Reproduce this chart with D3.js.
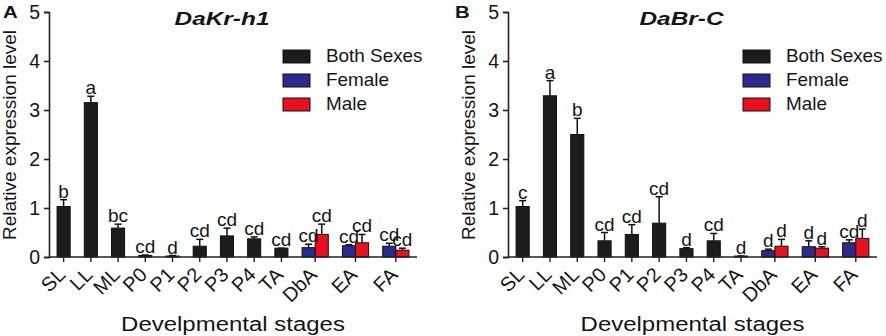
<!DOCTYPE html>
<html><head><meta charset="utf-8">
<script src="https://cdn.jsdelivr.net/npm/d3@7"></script>
<style>body{margin:0;background:#fff}svg{display:block;font-family:"Liberation Sans",Arial,sans-serif}</style>
</head><body><svg id="c" width="886" height="336"></svg>
<script>
const categories = ["SL","LL","ML","P0","P1","P2","P3","P4","TA","DbA","EA","FA"];
const seriesNames = ["Both Sexes","Female","Male"];
const seriesColors = ["#1c1c1c","#2d2a8e","#e8101c"];
const yTicks = [0,1,2,3,4,5];

// Panel A: DaKr-h1
const krBoth     = [1.03,3.15,0.59,0.03,0.02,0.22,0.43,0.37,0.18,null,null,null];
const krBothErr  = [1.17,3.28,0.67,0.04,0.03,0.36,0.59,0.41,0.18,null,null,null];
const krBothLet  = ["b","a","bc","cd","d","cd","cd","cd","cd",null,null,null];
const krFemale   = [null,null,null,null,null,null,null,null,null,0.19,0.23,0.22];
const krFemaleErr= [null,null,null,null,null,null,null,null,null,0.26,0.25,0.28];
const krFemaleLet= [null,null,null,null,null,null,null,null,null,"cd","cd","cd"];
const krMale     = [null,null,null,null,null,null,null,null,null,0.46,0.29,0.14];
const krMaleErr  = [null,null,null,null,null,null,null,null,null,0.67,0.46,0.18];
const krMaleLet  = [null,null,null,null,null,null,null,null,null,"cd","cd","cd"];

// Panel B: DaBr-C
const brBoth     = [1.03,3.29,2.50,0.33,0.46,0.69,0.17,0.33,0.02,null,null,null];
const brBothErr  = [1.15,3.60,2.83,0.50,0.66,1.23,0.19,0.48,0.02,null,null,null];
const brBothLet  = ["c","a","b","cd","cd","cd","d","cd","d",null,null,null];
const brFemale   = [null,null,null,null,null,null,null,null,null,0.13,0.21,0.29];
const brFemaleErr= [null,null,null,null,null,null,null,null,null,0.16,0.33,0.35];
const brFemaleLet= [null,null,null,null,null,null,null,null,null,"d","d","cd"];
const brMale     = [null,null,null,null,null,null,null,null,null,0.22,0.18,0.38];
const brMaleErr  = [null,null,null,null,null,null,null,null,null,0.36,0.21,0.57];
const brMaleLet  = [null,null,null,null,null,null,null,null,null,"d","d","d"];

const panels = [
  {tag:"A", title:"DaKr-h1", x0:49, x1:417, legX:283, ylabX:11, tagX:3,
   series:[[krBoth,krBothErr,krBothLet],[krFemale,krFemaleErr,krFemaleLet],[krMale,krMaleErr,krMaleLet]]},
  {tag:"B", title:"DaBr-C", x0:508, x1:877, legX:743, ylabX:470, tagX:455,
   series:[[brBoth,brBothErr,brBothLet],[brFemale,brFemaleErr,brFemaleLet],[brMale,brMaleErr,brMaleLet]]}
];

const svg = d3.select("#c");
const y = d3.scaleLinear().domain([0,5]).range([257,12]);
const PAD=8, BW=13, GAP=14;
const INK="#151515";

function txt(g, x, yy, s, size, sx, opts={}){
  const t = g.append("text")
    .attr("transform",`translate(${x},${yy}) scale(${sx},1)` + (opts.rot?` rotate(${opts.rot})`:""))
    .attr("font-size",size).attr("fill",INK).text(s);
  if(opts.anchor) t.attr("text-anchor",opts.anchor);
  if(opts.bold) t.attr("font-weight","bold");
  if(opts.italic) t.attr("font-style","italic");
  if(opts.db) t.attr("dominant-baseline",opts.db);
  return t;
}

panels.forEach(p=>{
  const g = svg.append("g");
  const bars=[]; const groups=[];
  let u = PAD;
  categories.forEach((c,i)=>{
    if(i>0) u += GAP;
    const start=u;
    p.series.forEach((s,si)=>{
      if(s[0][i]!=null){ bars.push({cat:c, si, v:s[0][i], e:s[1][i], l:s[2][i], u0:u}); u += BW; }
    });
    groups.push({cat:c, mid:(start+u)/2});
  });
  u += PAD;
  const x = d3.scaleLinear().domain([0,u]).range([p.x0,p.x1]);
  const bw = x(BW)-x(0);

  // bars
  g.selectAll("rect.bar").data(bars).join("rect")
    .attr("x",d=>x(d.u0)).attr("width",bw)
    .attr("y",d=>y(d.v)).attr("height",d=>y(0)-y(d.v))
    .attr("fill",d=>seriesColors[d.si]).attr("stroke","#111").attr("stroke-width",1);
  // error bars
  const eb = g.selectAll("g.eb").data(bars).join("g").attr("stroke","#111").attr("stroke-width",1.5);
  eb.append("line").attr("x1",d=>x(d.u0)+bw/2).attr("x2",d=>x(d.u0)+bw/2).attr("y1",d=>y(d.v)).attr("y2",d=>y(d.e));
  eb.append("line").attr("x1",d=>x(d.u0)+bw/2-3.5).attr("x2",d=>x(d.u0)+bw/2+3.5).attr("y1",d=>y(d.e)).attr("y2",d=>y(d.e));
  // letters
  bars.forEach(d=>txt(g, x(d.u0)+bw/2, y(d.e)-2, d.l, 19, 1, {anchor:"middle"}));

  // y axis
  const ya = g.append("g").attr("transform",`translate(${p.x0},0)`)
    .call(d3.axisLeft(y).tickValues(yTicks).tickSize(5).tickPadding(4).tickFormat(d3.format("d")));
  ya.select(".domain").attr("stroke","#222").attr("stroke-width",1.6);
  ya.selectAll(".tick line").attr("stroke","#222").attr("stroke-width",1.6);
  ya.selectAll(".tick text").attr("font-size",19.5).attr("fill",INK)
    .attr("font-family","Liberation Sans, Arial, sans-serif");
  // x axis line and ticks
  g.append("line").attr("x1",p.x0).attr("x2",p.x1).attr("y1",y(0)).attr("y2",y(0)).attr("stroke","#222").attr("stroke-width",1.6);
  g.selectAll("line.xt").data(groups).join("line")
    .attr("x1",d=>x(d.mid)).attr("x2",d=>x(d.mid)).attr("y1",y(0)).attr("y2",y(0)+5)
    .attr("stroke","#222").attr("stroke-width",1.4);
  // x labels
  groups.forEach(d=>txt(g, x(d.mid)+3, y(0)+19, d.cat, 20, 1, {anchor:"end", rot:-45}));
  // axis titles
  g.append("text").attr("transform",`translate(${p.ylabX},135) rotate(-90)`).attr("text-anchor","middle")
    .attr("dominant-baseline","middle").attr("font-size",19).attr("fill",INK).text("Relative expression level");
  txt(g, (p.x0+p.x1)/2, 331, "Develpmental stages", 19.5, 1.23, {anchor:"middle"});
  // title
  txt(g, (p.x0+p.x1)/2-11, 25, p.title, 18.5, 1.32, {anchor:"middle", bold:true, italic:true});
  // panel tag
  txt(g, p.tagX, 18, p.tag, 17, 1.2, {bold:true});
  // legend
  const lg = g.selectAll("g.lg").data(seriesNames).join("g")
    .attr("transform",(d,i)=>`translate(${p.legX},${50+i*24})`);
  lg.append("rect").attr("width",27).attr("height",13).attr("fill",(d,i)=>seriesColors[i]).attr("stroke","#111").attr("stroke-width",1);
  lg.each(function(d){ txt(d3.select(this), 43, 7, d, 18, 1.05, {db:"middle"}); });
});
</script></body></html>
